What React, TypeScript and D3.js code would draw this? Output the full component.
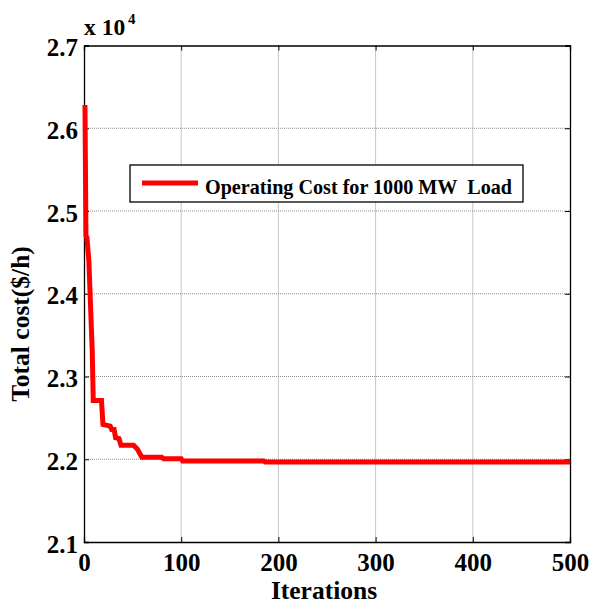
import React, { useEffect, useRef } from 'react';
import * as d3 from 'd3';

// convergence curve (cost in units of 10^4 $/h)
const iterations = [1, 2, 3, 5, 8.5, 9.5, 18, 19.5, 27, 28.5, 31, 32.5, 36, 38, 51, 55, 59.5, 62, 80, 82, 100, 101.5, 185, 186.5, 500];
const costs = [2.628, 2.47, 2.468, 2.44, 2.33, 2.271, 2.271, 2.242, 2.24, 2.236, 2.236, 2.226, 2.225, 2.217, 2.217, 2.212, 2.2025, 2.2025, 2.2025, 2.2005, 2.2005, 2.1978, 2.1978, 2.1966, 2.1966];

const xTicks = [0, 100, 200, 300, 400, 500];
const yTicks = [2.1, 2.2, 2.3, 2.4, 2.5, 2.6, 2.7];
const legendLabel = 'Operating Cost for 1000 MW  Load';
const xTitle = 'Iterations';
const yTitle = 'Total cost($/h)';

const W = 590;
const H = 605;
const FONT = '"Liberation Serif", "Times New Roman", serif';

export default function App() {
  const ref = useRef<SVGSVGElement>(null);

  useEffect(() => {
    const svg = d3.select(ref.current);
    svg.selectAll('*').remove();

    const left = 84, right = 570, top = 45.5, bottom = 542;
    const x = d3.scaleLinear().domain([0, 500]).range([left, right]);
    const y = d3.scaleLinear().domain([2.1, 2.7]).range([bottom, top]);

    // dotted grid
    const grid = svg.append('g').attr('stroke', '#8c8c8c').attr('stroke-width', 1).attr('stroke-dasharray', '1,1');
    grid.selectAll('line.gx').data(xTicks.slice(1, -1)).join('line')
      .attr('x1', d => x(d)).attr('x2', d => x(d)).attr('y1', top).attr('y2', bottom);
    grid.selectAll('line.gy').data(yTicks.slice(1, -1)).join('line')
      .attr('x1', left).attr('x2', right).attr('y1', d => y(d)).attr('y2', d => y(d));

    // axes with inward ticks
    const xAxis = d3.axisBottom(x).tickValues(xTicks).tickSize(-5).tickPadding(11).tickFormat(d3.format('d'));
    const yAxis = d3.axisLeft(y).tickValues(yTicks).tickSize(-5).tickPadding(6).tickFormat(d3.format('.1f'));
    const gx = svg.append('g').attr('transform', `translate(0,${bottom})`).call(xAxis);
    const gy = svg.append('g').attr('transform', `translate(${left},0)`).call(yAxis);
    svg.append('g').attr('transform', `translate(0,${top})`)
      .call(d3.axisTop(x).tickValues(xTicks).tickSize(-5).tickFormat(() => ''));
    svg.append('g').attr('transform', `translate(${right},0)`)
      .call(d3.axisRight(y).tickValues(yTicks).tickSize(-5).tickFormat(() => ''));

    [gx, gy].forEach(g => g.selectAll('text')
      .attr('font-family', FONT).attr('font-size', 25).attr('font-weight', 'bold').attr('fill', '#000'));
    gy.selectAll('text').attr('dy', '0.4em');
    svg.selectAll('.domain').attr('stroke', '#000').attr('stroke-width', 1.3);
    svg.selectAll('.tick line').attr('stroke', '#000');

    // cost curve
    const pts = iterations.map((it, i) => [it, costs[i]] as [number, number]);
    const line = d3.line<[number, number]>().x(d => x(d[0])).y(d => y(d[1]));
    svg.append('path').datum(pts).attr('d', line).attr('fill', 'none')
      .attr('stroke', '#ff0000').attr('stroke-width', 5).attr('stroke-linejoin', 'miter');

    // exponent label
    svg.append('text').attr('x', left).attr('y', 35)
      .attr('font-family', FONT).attr('font-weight', 'bold').attr('font-size', 23.5).text('x 10');
    svg.append('text').attr('x', left + 44).attr('y', 24)
      .attr('font-family', FONT).attr('font-weight', 'bold').attr('font-size', 15).text('4');

    // legend
    const lg = svg.append('g');
    lg.append('rect').attr('x', 130).attr('y', 165).attr('width', 393).attr('height', 37)
      .attr('fill', '#fff').attr('stroke', '#000').attr('stroke-width', 1.3);
    lg.append('line').attr('x1', 142).attr('x2', 198).attr('y1', 183).attr('y2', 183)
      .attr('stroke', '#ff0000').attr('stroke-width', 5);
    lg.append('text').attr('x', 205).attr('y', 193.5).style('white-space', 'pre')
      .attr('font-family', FONT).attr('font-weight', 'bold').attr('font-size', 22)
      .attr('textLength', 307).attr('lengthAdjust', 'spacingAndGlyphs').text(legendLabel);

    // axis titles
    svg.append('text').attr('x', (left + right) / 2 - 3).attr('y', 598.5).attr('text-anchor', 'middle')
      .attr('font-family', FONT).attr('font-weight', 'bold').attr('font-size', 25.5).text(xTitle);
    svg.append('text').attr('transform', 'translate(29,324) rotate(-90)').attr('text-anchor', 'middle')
      .attr('font-family', FONT).attr('font-weight', 'bold').attr('font-size', 25.5).text(yTitle);
  }, []);

  return (
    <svg ref={ref} width={W} height={H} style={{ position: 'absolute', left: 0, top: 0, background: '#fff' }} />
  );
}
